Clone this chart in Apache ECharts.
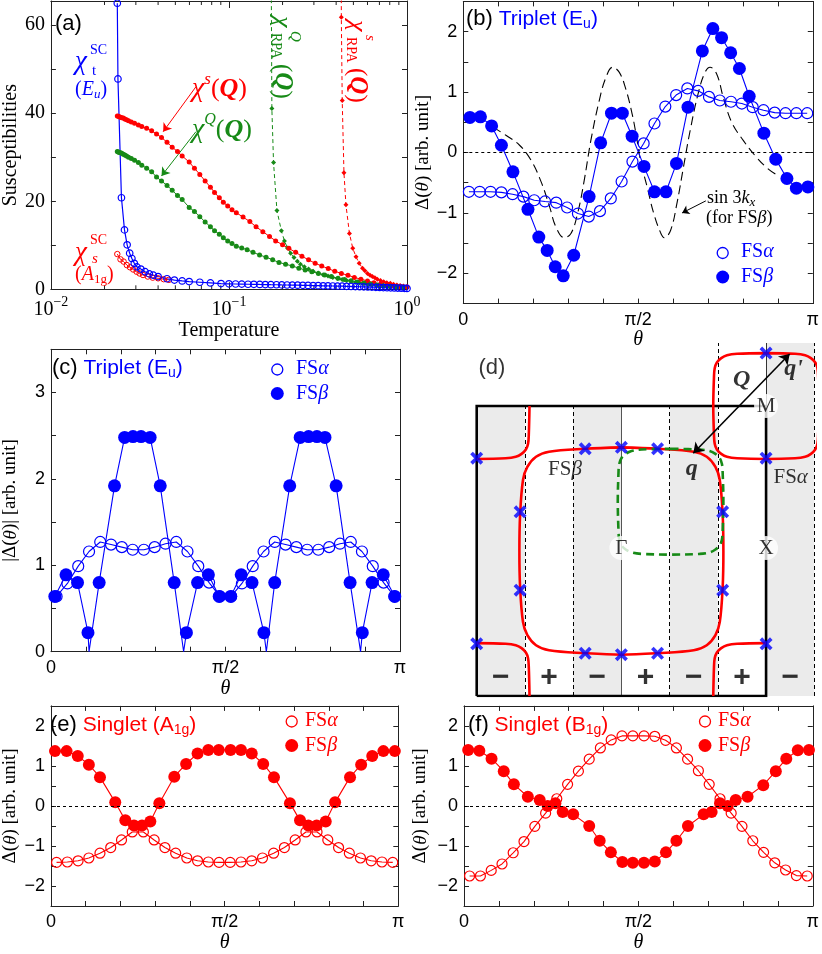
<!DOCTYPE html>
<html>
<head>
<meta charset="utf-8">
<script src="https://cdn.jsdelivr.net/npm/echarts@6/dist/echarts.min.js"></script>
<style>
  html, body { margin: 0; padding: 0; background: #fff; }
  #main { width: 822px; height: 954px; }
</style>
</head>
<body>
<div id="main"></div>
<script>
const SANS = '"Liberation Sans", Arial, sans-serif'
const SERIF = '"Liberation Serif", "Times New Roman", serif'
const BLUE = '#0000ff', RED = '#ff0000', GREEN = '#178a17', INK = '#000'

// ---------- (a) susceptibilities vs temperature : [T, value]
const aChiSpin = [[0.0236,39.4],[0.0239,39.3],[0.0242,39.2],[0.0246,39.1],[0.0250,39.0],[0.0255,38.9],[0.0260,38.7],[0.0266,38.5],[0.0273,38.3],[0.0283,38.0],[0.0295,37.7],[0.0310,37.3],[0.0324,37.0],[0.0345,36.6],[0.0368,36.0],[0.0392,35.3],[0.0418,34.5],[0.0449,33.4],[0.0480,32.3],[0.0514,31.3],[0.0546,30.3],[0.0598,28.9],[0.064,27.5],[0.0686,26.1],[0.0735,24.6],[0.0787,23.2],[0.083,22.0],[0.0883,20.8],[0.093,19.8],[0.0984,18.9],[0.104,18.1],[0.110,17.4],[0.120,16.4],[0.131,15.4],[0.142,14.2],[0.155,13.1],[0.169,12.0],[0.183,11.0],[0.200,10.1],[0.217,9.3],[0.237,8.4],[0.257,7.5],[0.280,6.7],[0.305,5.9],[0.332,5.3],[0.361,4.7],[0.393,4.1],[0.428,3.6],[0.466,3.2],[0.506,2.7],[0.551,2.3],[0.600,1.9],[0.652,1.5],[0.710,1.2],[0.773,1.0],[0.840,0.8],[0.914,0.65],[1.0,0.55]]
const aChiQuad = [[0.0236,31.3],[0.0239,31.2],[0.0242,31.1],[0.0246,31.0],[0.0250,30.9],[0.0255,30.7],[0.0260,30.5],[0.0266,30.3],[0.0273,30.0],[0.0283,29.7],[0.0295,29.3],[0.0310,28.8],[0.0324,28.2],[0.0345,27.5],[0.0368,26.7],[0.0392,25.5],[0.0418,24.6],[0.0449,23.6],[0.0480,22.5],[0.0514,21.3],[0.0546,20.4],[0.0598,18.6],[0.064,17.7],[0.0686,16.5],[0.0735,15.3],[0.0787,14.2],[0.083,13.3],[0.0883,12.5],[0.093,11.7],[0.0984,11.0],[0.104,10.4],[0.110,9.8],[0.118,9.4],[0.1265,9.0],[0.1365,8.4],[0.1486,7.8],[0.1616,7.3],[0.176,6.7],[0.191,6.1],[0.208,5.7],[0.227,5.3],[0.247,4.8],[0.268,4.4],[0.292,4.0],[0.318,3.6],[0.345,3.25],[0.376,2.9],[0.41,2.5],[0.445,2.2],[0.485,1.95],[0.527,1.65],[0.573,1.43],[0.624,1.2],[0.679,1.0],[0.738,0.82],[0.803,0.68],[0.874,0.55],[0.951,0.45]]
const aChiTriplet = [[0.0236,65.0],[0.0238,47.8],[0.0249,20.8],[0.0259,13.5],[0.0268,10.1],[0.0277,8.2],[0.0285,7.0],[0.0294,5.9],[0.0304,5.1],[0.0320,4.6],[0.0338,4.0],[0.0357,3.5],[0.0376,3.2],[0.0400,2.9],[0.0449,2.4],[0.0494,2.1],[0.0546,1.9],[0.0598,1.75],[0.0686,1.6],[0.0787,1.45],[0.0903,1.3],[0.100,1.25],[0.109,1.20],[0.118,1.18],[0.128,1.15],[0.138,1.13],[0.149,1.10],[0.160,1.08],[0.172,1.05],[0.185,1.03],[0.198,1.00],[0.212,0.98],[0.227,0.95],[0.243,0.93],[0.260,0.90],[0.278,0.88],[0.297,0.85],[0.317,0.83],[0.338,0.80],[0.360,0.78],[0.383,0.75],[0.407,0.72],[0.432,0.70],[0.458,0.67],[0.485,0.64],[0.513,0.61],[0.542,0.58],[0.572,0.55],[0.603,0.52],[0.635,0.49],[0.668,0.46],[0.702,0.43],[0.737,0.40],[0.773,0.37],[0.810,0.34],[0.848,0.31],[0.887,0.28],[0.927,0.25],[0.968,0.22],[1.0,0.2]]
const aChiSinglet = [[0.0236,8.0],[0.0246,6.8],[0.0256,6.3],[0.0267,5.5],[0.0278,5.0],[0.029,4.5],[0.0303,4.0],[0.0315,3.6],[0.0329,3.25],[0.035,2.9],[0.0373,2.65],[0.04,2.5],[0.043,2.3],[0.046,2.15]]
const aRpaQuad = [[0.1705,120],[0.1742,41.1],[0.178,28.8],[0.186,17.9],[0.197,13.3],[0.205,11.0],[0.213,9.4],[0.222,8.2],[0.232,7.2],[0.242,6.4],[0.252,5.7],[0.265,5.1],[0.28,4.6],[0.297,4.1],[0.317,3.7],[0.338,3.3],[0.36,3.0],[0.383,2.7],[0.407,2.45],[0.432,2.2],[0.458,2.0],[0.485,1.8],[0.513,1.6],[0.542,1.45],[0.572,1.3],[0.603,1.2],[0.635,1.1],[0.668,1.0],[0.702,0.9],[0.737,0.82],[0.773,0.75],[0.81,0.68],[0.848,0.62],[0.887,0.56],[0.927,0.51],[0.968,0.47],[1.0,0.44]]
const aRpaSpin = [[0.426,120],[0.4277,61.8],[0.4327,42.9],[0.4425,26.5],[0.454,19.2],[0.475,12.7],[0.496,9.3],[0.517,7.4],[0.539,5.9],[0.5625,4.8],[0.58,4.2],[0.6,3.6],[0.62,3.2],[0.639,2.9],[0.66,2.6],[0.681,2.3],[0.71,2.0],[0.74,1.7],[0.77,1.5],[0.806,1.35],[0.84,1.15],[0.877,1.0],[0.915,0.85],[0.954,0.75],[1.0,0.65]]
const aMinorTicks = [0.02,0.03,0.04,0.05,0.06,0.07,0.08,0.09,0.2,0.3,0.4,0.5,0.6,0.7,0.8,0.9]

// ---------- (b),(c),(e),(f) gap functions, theta in units of pi
const thetaGrid = [0.016,0.047,0.078,0.109,0.141,0.172,0.203,0.234,0.266,0.297,0.328,0.359,0.391,0.422,0.453,0.484,0.516,0.547,0.578,0.609,0.641,0.672,0.703,0.734,0.766,0.797,0.828,0.859,0.891,0.922,0.953,0.984]

const bAlpha = [-0.65,-0.65,-0.65,-0.66,-0.69,-0.73,-0.79,-0.81,-0.83,-0.91,-1.01,-1.06,-0.97,-0.76,-0.48,-0.15,0.15,0.48,0.76,0.95,1.06,1.02,0.92,0.86,0.84,0.81,0.75,0.70,0.66,0.65,0.65,0.65]
const bBeta = [[0.019,0.58],[0.049,0.59],[0.081,0.44],[0.109,0.12],[0.142,-0.32],[0.185,-0.94],[0.216,-1.40],[0.240,-1.62],[0.263,-1.89],[0.286,-2.04],[0.316,-1.70],[0.360,-0.73],[0.393,0.16],[0.424,0.65],[0.455,0.65],[0.483,0.27],[0.517,-0.23],[0.547,-0.65],[0.580,-0.65],[0.610,-0.18],[0.643,0.75],[0.684,1.68],[0.714,2.05],[0.739,1.90],[0.765,1.65],[0.790,1.39],[0.818,0.93],[0.860,0.32],[0.894,-0.11],[0.926,-0.43],[0.953,-0.59],[0.986,-0.57]]
const bSin3kx = [[0.085,0.42],[0.123,0.28],[0.161,0.12],[0.194,-0.13],[0.223,-0.49],[0.247,-0.90],[0.265,-1.23],[0.289,-1.41],[0.308,-1.34],[0.327,-1.01],[0.346,-0.46],[0.365,0.20],[0.389,0.86],[0.408,1.24],[0.427,1.41],[0.446,1.33],[0.465,1.05],[0.483,0.64],[0.495,0.28],[0.507,-0.13],[0.526,-0.57],[0.545,-1.01],[0.564,-1.32],[0.575,-1.41],[0.593,-1.29],[0.611,-0.85],[0.630,-0.24],[0.649,0.36],[0.673,1.0],[0.692,1.33],[0.706,1.41],[0.725,1.30],[0.744,0.91],[0.768,0.50],[0.801,0.2],[0.839,-0.08],[0.872,-0.27],[0.900,-0.38]]

const cAlpha = [0.64,0.79,0.99,1.16,1.27,1.24,1.21,1.18,1.18,1.21,1.25,1.27,1.16,0.99,0.80,0.64,0.64,0.79,0.99,1.16,1.27,1.24,1.21,1.18,1.18,1.21,1.25,1.27,1.16,0.99,0.80,0.64]
const cBeta = [[0.011,0.64],[0.043,0.89],[0.076,0.80],[0.106,0.22],[0.138,0.80],[0.182,1.92],[0.211,2.48],[0.235,2.49],[0.258,2.49],[0.284,2.48],[0.313,1.92],[0.353,0.80],[0.388,0.22],[0.420,0.80],[0.451,0.89],[0.482,0.64],[0.515,0.64],[0.545,0.89],[0.576,0.80],[0.610,0.22],[0.641,0.80],[0.684,1.92],[0.714,2.48],[0.738,2.49],[0.762,2.49],[0.785,2.48],[0.817,1.92],[0.857,0.80],[0.892,0.22],[0.920,0.80],[0.952,0.89],[0.985,0.64]]
const cBetaNodes = [0.109, 0.380, 0.617, 0.887]

const eAlpha = [-1.41,-1.40,-1.37,-1.30,-1.18,-1.04,-0.85,-0.65,-0.65,-0.85,-1.04,-1.18,-1.30,-1.37,-1.40,-1.41,-1.41,-1.40,-1.37,-1.30,-1.18,-1.04,-0.85,-0.65,-0.65,-0.85,-1.04,-1.18,-1.30,-1.37,-1.40,-1.41]
const eBeta = [[0.0115,1.37],[0.045,1.37],[0.077,1.25],[0.109,1.03],[0.141,0.72],[0.185,0.09],[0.214,-0.36],[0.239,-0.49],[0.262,-0.49],[0.286,-0.39],[0.312,0.07],[0.355,0.73],[0.389,1.05],[0.422,1.31],[0.453,1.40],[0.483,1.40],[0.517,1.40],[0.547,1.40],[0.578,1.31],[0.611,1.05],[0.642,0.72],[0.688,0.07],[0.717,-0.36],[0.741,-0.49],[0.765,-0.49],[0.791,-0.39],[0.818,0.09],[0.861,0.72],[0.893,1.03],[0.925,1.25],[0.957,1.37],[0.99,1.37]]

const fAlpha = [-1.75,-1.75,-1.61,-1.45,-1.17,-0.89,-0.51,-0.18,0.18,0.54,0.87,1.17,1.45,1.65,1.75,1.75,1.75,1.74,1.64,1.45,1.17,0.88,0.54,0.18,-0.18,-0.51,-0.87,-1.16,-1.42,-1.60,-1.74,-1.75]
const fBeta = [[0.012,1.40],[0.044,1.38],[0.079,1.18],[0.114,0.87],[0.143,0.54],[0.183,0.23],[0.217,0.15],[0.240,0.0],[0.262,0.07],[0.283,-0.15],[0.313,-0.21],[0.359,-0.50],[0.389,-0.87],[0.421,-1.16],[0.454,-1.40],[0.484,-1.42],[0.516,-1.42],[0.547,-1.39],[0.579,-1.16],[0.609,-0.87],[0.642,-0.50],[0.687,-0.21],[0.710,-0.15],[0.734,0.07],[0.756,0.0],[0.779,0.15],[0.813,0.23],[0.858,0.52],[0.894,0.87],[0.924,1.18],[0.957,1.39],[0.989,1.40]]

// ---------- (d) Fermi surfaces, k in units of pi
const dBetaQuarter = [[0,0.715],[0.25,0.705],[0.5,0.685],[0.59,0.65],[0.65,0.58],[0.68,0.49],[0.70,0.25],[0.705,0]]
const dAlphaQuarter = [[0,0.365],[0.2,0.36],[0.27,0.35],[0.31,0.33],[0.34,0.30],[0.355,0.26],[0.36,0.2],[0.365,0]]
const dGreenCenter = [0.34, 0.34]
const dNodes = [[-0.25,0.705],[0,0.715],[0.25,0.705],[-0.25,-0.705],[0,-0.715],[0.25,-0.705],[-0.70,0.27],[-0.70,-0.27],[0.70,0.27],[0.70,-0.27],[-1,0.64],[-1,-0.64],[1,0.64],[1,-0.64],[1,1.365]]
const dStrips = [[-1,-2/3,1],[-1/3,0,1],[1/3,2/3,1],[1,4/3,1.4345]]
const dDashX = [[-2/3,1],[-1/3,1],[1/3,1],[2/3,1.4345],[4/3,1.4345]]
const dSigns = ['−','+','−','+','−','+','−']
const dSignX = [-5/6,-1/2,-1/6,1/6,1/2,5/6,7/6]
const dQArrow = [[1.163,1.359],[0.497,0.674]]

// ---------- helpers
function loop(q, cx, cy) {
  const out = []
  q.forEach(p => out.push([cx + p[0], cy + p[1]]))
  q.slice().reverse().slice(1).forEach(p => out.push([cx + p[0], cy - p[1]]))
  q.slice(1).forEach(p => out.push([cx - p[0], cy - p[1]]))
  q.slice().reverse().slice(1).forEach(p => out.push([cx - p[0], cy + p[1]]))
  return out
}
const onGrid = (xs, ys) => xs.map((t, i) => [t, ys[i]])
const minus = s => String(s).replace('-', '−')

function thetaLabel(v) {
  if (Math.abs(v) < 1e-6) return '0'
  if (Math.abs(v - 0.5) < 1e-6) return 'π/2'
  if (Math.abs(v - 1) < 1e-6) return 'π'
  return ''
}

const frame = {color: '#222', width: 1}
function thetaAxes(grid, gap) {
  const base = {type: 'value', gridIndex: grid, min: 0, max: 1, interval: 0.1,
    axisLine: {show: true, onZero: false, lineStyle: frame},
    axisTick: {show: true, inside: true, length: 5, lineStyle: frame},
    splitLine: {show: false}}
  return [
    Object.assign({}, base, {position: 'bottom',
      axisLabel: {show: true, margin: 7, fontFamily: SANS, fontSize: 18, color: INK, formatter: thetaLabel},
      name: 'θ', nameLocation: 'middle', nameGap: gap,
      nameTextStyle: {fontFamily: SERIF, fontStyle: 'italic', fontSize: 20, color: INK}}),
    Object.assign({}, base, {position: 'top', axisLabel: {show: false}})
  ]
}
function valueAxes(grid, min, max, step, labelStep, name, gap, font, size) {
  const base = {type: 'value', gridIndex: grid, min: min, max: max, interval: step,
    axisLine: {show: true, onZero: false, lineStyle: frame},
    axisTick: {show: true, inside: true, length: 5, lineStyle: frame},
    splitLine: {show: false}}
  const nameRich = {
    n: {fontFamily: SERIF, fontSize: 19, color: INK},
    i: {fontFamily: SERIF, fontSize: 19, fontStyle: 'italic', color: INK}
  }
  return [
    Object.assign({}, base, {position: 'left',
      axisLabel: {show: true, margin: 6, fontFamily: font, fontSize: size, color: INK,
        formatter: v => {
          const k = v / labelStep
          return Math.abs(k - Math.round(k)) < 1e-6 && v <= max - step * 0.5 ? minus(Math.round(v)) : ''
        }},
      name: name, nameLocation: 'middle', nameGap: gap, nameRotate: 90,
      nameTextStyle: {rich: nameRich, fontFamily: SERIF, fontSize: 19, color: INK}}),
    Object.assign({}, base, {position: 'right', axisLabel: {show: false}})
  ]
}

const openSym = (color, size, bw) => ({symbol: 'circle', symbolSize: size,
  itemStyle: {color: 'rgba(255,255,255,0)', borderColor: color, borderWidth: bw}})
const fillSym = (color, size) => ({symbol: 'circle', symbolSize: size, itemStyle: {color: color}})
function gapSeries(xi, yi, data, color, sym, extra) {
  return Object.assign({type: 'line', xAxisIndex: xi, yAxisIndex: yi, data: data,
    lineStyle: {color: color, width: 1.1}, z: 3}, sym, extra || {})
}
const zeroLine = {silent: true, symbol: 'none', label: {show: false},
  lineStyle: {type: [3, 3], color: INK, width: 1}, data: [{yAxis: 0}]}

// text helpers (graphic)
function rt(x, y, text, rich, align) {
  return {type: 'text', x: x, y: y, silent: true, z: 50,
    style: {text: text, rich: rich, align: align || 'left', verticalAlign: 'middle'}}
}
function st(size, color, opt) {
  opt = opt || {}
  return {fontSize: size, fill: color, fontFamily: opt.fam || SERIF,
    fontStyle: opt.it ? 'italic' : 'normal', fontWeight: opt.bold ? 'bold' : 'normal',
    padding: opt.pad || [0, 0, 0, 0]}
}
function fsLegend(cx, cy, color, tx) {
  const rich = {n: st(20, color), g: st(20, color, {it: true})}
  return [
    {type: 'circle', silent: true, z: 50, shape: {cx: cx, cy: cy, r: 5.5}, style: {fill: 'none', stroke: color, lineWidth: 1.3}},
    rt(tx, cy - 1, '{n|FS}{g|α}', rich),
    {type: 'circle', silent: true, z: 50, shape: {cx: cx, cy: cy + 24, r: 6.5}, style: {fill: color}},
    rt(tx, cy + 24, '{n|FS}{g|β}', rich)
  ]
}
function title(x, y, tag, label, sub, color) {
  const rich = {
    t: st(22, INK, {fam: SANS}),
    a: st(21, color, {fam: SANS}),
    s: st(14, color, {fam: SANS, pad: [10, 0, 0, 0]})
  }
  return rt(x, y, '{t|' + tag + '}{a| ' + label + ' (' + sub[0] + '}{s|' + sub.slice(1) + '}{a|)}', rich)
}

// ---------- annotation text
const graphics = []
graphics.push(rt(55, 24, '{t|(a)}', {t: st(22, INK, {fam: SANS})}))
// chi_t^SC (E_u)
graphics.push(rt(75, 62, '{c|χ}', {c: st(27, BLUE, {it: true})}))
graphics.push(rt(90, 50, '{c|SC}', {c: st(14, BLUE)}))
graphics.push(rt(92, 71, '{c|t}', {c: st(15, BLUE)}))
graphics.push(rt(75, 90, '{p|(}{e|E}{s|u}{p|)}', {p: st(20, BLUE), e: st(20, BLUE, {it: true}), s: st(13, BLUE, {it: true, pad: [9, 0, 0, 0]})}))
// chi_s^SC (A_1g)
graphics.push(rt(75, 253, '{c|χ}', {c: st(27, RED, {it: true})}))
graphics.push(rt(90, 240, '{c|SC}', {c: st(14, RED)}))
graphics.push(rt(92, 259, '{c|s}', {c: st(15, RED, {it: true})}))
graphics.push(rt(75, 275, '{p|(}{e|A}{s|1g}{p|)}', {p: st(20, RED), e: st(20, RED, {it: true}), s: st(13, RED, {pad: [9, 0, 0, 0]})}))
// chi^s(Q), chi^Q(Q)
graphics.push(rt(192, 89, '{c|χ}{u|s}{p|(}{q|Q}{p|)}', {c: st(28, RED, {it: true}), u: st(17, RED, {it: true, pad: [0, 0, 18, 0]}), p: st(26, RED), q: st(26, RED, {it: true, bold: true})}))
graphics.push(rt(192, 130, '{c|χ}{u|Q}{p|(}{q|Q}{p|)}', {c: st(28, GREEN, {it: true}), u: st(16, GREEN, {it: true, pad: [0, 0, 20, 0]}), p: st(26, GREEN), q: st(26, GREEN, {it: true, bold: true})}))
// rotated RPA labels
function rpaLabel(x, y, color, sup) {
  return {type: 'group', x: x, y: y, rotation: -Math.PI / 2, silent: true, z: 50, children: [
    rt(0, 0, '{c|χ}', {c: st(26, color, {it: true})}),
    rt(15, -13, '{c|' + sup + '}', {c: st(15, color, {it: true})}),
    rt(17, 6, '{c|RPA}', {c: st(14, color)}),
    rt(48, 0, '{p|(}{q|Q}{p|)}', {p: st(25, color), q: st(25, color, {it: true, bold: true})})
  ]}
}
graphics.push(rpaLabel(282, 16, GREEN, 'Q'))
graphics.push(rpaLabel(357, 20, RED, 's'))

// panel titles and legends
graphics.push(title(466, 19, '(b)', 'Triplet', 'Eu', BLUE))
graphics.push(title(52, 368, '(c)', 'Triplet', 'Eu', BLUE))
graphics.push(title(50, 725, '(e)', 'Singlet', 'A1g', RED))
graphics.push(title(468, 725, '(f)', 'Singlet', 'B1g', RED))
fsLegend(722.7, 253, BLUE, 741).forEach(g => graphics.push(g))
fsLegend(277.3, 369.5, BLUE, 296).forEach(g => graphics.push(g))
fsLegend(291.7, 721.5, RED, 305).forEach(g => graphics.push(g))
fsLegend(705, 721.5, RED, 718).forEach(g => graphics.push(g))
// sin 3kx note in (b)
graphics.push(rt(707, 198, '{n|sin 3}{i|k}{s|x}', {n: st(18, INK), i: st(18, INK, {it: true}), s: st(13, INK, {it: true, pad: [9, 0, 0, 0]})}))
graphics.push(rt(706, 218, '{n|(for FS}{i|β}{n|)}', {n: st(18, INK), i: st(18, INK, {it: true})}))

// ---------- axes
const xAxes = [
  {type: 'log', logBase: 10, gridIndex: 0, min: 0.01, max: 1, position: 'bottom',
    axisLine: {show: true, onZero: false, lineStyle: frame},
    axisTick: {show: true, inside: true, length: 7, lineStyle: frame},
    splitLine: {show: false},
    axisLabel: {show: true, margin: 6, color: INK,
      formatter: v => '{b|10}{s|' + minus(Math.round(Math.log10(v))) + '}',
      rich: {b: {fontFamily: SERIF, fontSize: 20, color: INK}, s: {fontFamily: SERIF, fontSize: 14, color: INK, padding: [0, 0, 14, 0]}}},
    name: 'Temperature', nameLocation: 'middle', nameGap: 31,
    nameTextStyle: {fontFamily: SERIF, fontSize: 20, color: INK}},
  {type: 'log', logBase: 10, gridIndex: 0, min: 0.01, max: 1, position: 'top',
    axisLine: {show: true, onZero: false, lineStyle: frame},
    axisTick: {show: true, inside: true, length: 7, lineStyle: frame},
    splitLine: {show: false}, axisLabel: {show: false}}
].concat(thetaAxes(1, 24), thetaAxes(2, 27),
  [{type: 'value', gridIndex: 3, min: -1, max: 4 / 3, show: false}],
  thetaAxes(4, 27), thetaAxes(5, 27))

const yAxes = [].concat(
  valueAxes(0, 0, 65.5, 10, 20, 'Susceptibilities', 29, SERIF, 20),
  valueAxes(1, -2.5, 2.5, 0.5, 1, '{n|Δ(}{i|θ}{n|) [arb. unit]}', 27, SANS, 18),
  valueAxes(2, 0, 3.5, 0.5, 1, '{n||Δ(}{i|θ}{n|)| [arb. unit]}', 31, SANS, 18),
  [{type: 'value', gridIndex: 3, min: -1, max: 1.4345, show: false}],
  valueAxes(4, -2.5, 2.5, 0.5, 1, '{n|Δ(}{i|θ}{n|) [arb. unit]}', 31, SANS, 18),
  valueAxes(5, -2.5, 2.5, 0.5, 1, '{n|Δ(}{i|θ}{n|) [arb. unit]}', 34, SANS, 18)
)
yAxes[0].nameTextStyle = {fontFamily: SERIF, fontSize: 20, color: INK}
// axis indices: x: a0,a1 | b2,b3 | c4,c5 | d6 | e7,e8 | f9,f10 ; y likewise

// ---------- series
const series = []
// (a)
series.push({type: 'line', xAxisIndex: 0, yAxisIndex: 0, data: aRpaSpin, symbol: 'diamond', symbolSize: 5,
  lineStyle: {color: RED, width: 1, type: [4, 3]}, itemStyle: {color: RED}})
series.push({type: 'line', xAxisIndex: 0, yAxisIndex: 0, data: aRpaQuad, symbol: 'diamond', symbolSize: 5,
  lineStyle: {color: GREEN, width: 1, type: [4, 3]}, itemStyle: {color: GREEN}})
series.push({type: 'line', xAxisIndex: 0, yAxisIndex: 0, data: aChiSpin, symbol: 'circle', symbolSize: 5,
  lineStyle: {color: RED, width: 1}, itemStyle: {color: RED}})
series.push({type: 'line', xAxisIndex: 0, yAxisIndex: 0, data: aChiQuad, symbol: 'circle', symbolSize: 5,
  lineStyle: {color: GREEN, width: 1}, itemStyle: {color: GREEN}})
series.push(Object.assign({type: 'line', xAxisIndex: 0, yAxisIndex: 0, data: aChiSinglet,
  lineStyle: {color: RED, width: 1}}, openSym(RED, 5.5, 1)))
series.push(Object.assign({type: 'line', xAxisIndex: 0, yAxisIndex: 0, data: aChiTriplet,
  lineStyle: {color: BLUE, width: 1.2}}, openSym(BLUE, 6.5, 1.2)))
series.push({type: 'lines', coordinateSystem: 'cartesian2d', xAxisIndex: 0, yAxisIndex: 0,
  symbol: ['none', 'arrow'], symbolSize: 8, silent: true,
  data: [{coords: [[0.0652, 46.0], [0.0427, 35.8]], lineStyle: {color: RED, width: 1, opacity: 1}},
         {coords: [[0.0652, 35.8], [0.0418, 25.75]], lineStyle: {color: GREEN, width: 1, opacity: 1}}],
  lineStyle: {opacity: 1}})
series.push({type: 'custom', xAxisIndex: 0, yAxisIndex: 0, silent: true, data: aMinorTicks.map(t => [t, 1]),
  renderItem: (params, api) => {
    const x = api.coord([api.value(0), 1])[0]
    const cs = params.coordSys
    const yb = cs.y + cs.height
    return {type: 'group', children: [
      {type: 'line', shape: {x1: x, y1: yb, x2: x, y2: yb - 4}, style: {stroke: '#222', lineWidth: 1}},
      {type: 'line', shape: {x1: x, y1: cs.y, x2: x, y2: cs.y + 4}, style: {stroke: '#222', lineWidth: 1}}
    ]}
  }})

// (b)
series.push(gapSeries(2, 2, onGrid(thetaGrid, bAlpha), BLUE, openSym(BLUE, 11, 1.2), {markLine: zeroLine}))
series.push(gapSeries(2, 2, bBeta, BLUE, fillSym(BLUE, 13)))
series.push({type: 'line', xAxisIndex: 2, yAxisIndex: 2, data: bSin3kx, symbol: 'none', smooth: 0.4,
  lineStyle: {color: INK, width: 1.1, type: [9, 5]}, z: 2})
series.push({type: 'lines', coordinateSystem: 'cartesian2d', xAxisIndex: 2, yAxisIndex: 2,
  symbol: ['none', 'arrow'], symbolSize: 7, silent: true,
  data: [{coords: [[0.694, -0.80], [0.626, -1.0]]}], lineStyle: {color: INK, width: 1, opacity: 1}})

// (c)
const cBetaData = cBeta.map(p => ({value: p}))
  .concat(cBetaNodes.map(t => ({value: [t, 0], symbol: 'none'})))
  .sort((a, b) => a.value[0] - b.value[0])
series.push(gapSeries(4, 4, onGrid(thetaGrid, cAlpha), BLUE, openSym(BLUE, 11, 1.2)))
series.push(gapSeries(4, 4, cBetaData, BLUE, fillSym(BLUE, 13)))

// (e)
series.push(gapSeries(7, 7, onGrid(thetaGrid, eAlpha), RED, openSym(RED, 10, 1.2), {markLine: zeroLine}))
series.push(gapSeries(7, 7, eBeta, RED, fillSym(RED, 12)))
// (f)
series.push(gapSeries(9, 9, onGrid(thetaGrid, fAlpha), RED, openSym(RED, 10, 1.2), {markLine: zeroLine}))
series.push(gapSeries(9, 9, fBeta, RED, fillSym(RED, 12)))

// (d) Fermi surface sketch
const dAx = {xAxisIndex: 6, yAxisIndex: 6, silent: true}
series.push(Object.assign({type: 'lines', coordinateSystem: 'cartesian2d', polyline: true,
  data: [{coords: [[-1, -1], [1, -1], [1, 1], [-1, 1], [-1, -1]]}],
  lineStyle: {color: INK, width: 2.6, opacity: 1}, z: 4,
  markArea: {silent: true, itemStyle: {color: '#ebebeb'},
    data: dStrips.map(s => [{coord: [s[0], -1]}, {coord: [s[1], s[2]]}])}}, dAx))
series.push(Object.assign({type: 'lines', coordinateSystem: 'cartesian2d', z: 2,
  data: dDashX.map(d => ({coords: [[d[0], -1], [d[0], d[1]]]})),
  lineStyle: {color: INK, width: 1, type: [4, 3], opacity: 1}}, dAx))
series.push(Object.assign({type: 'lines', coordinateSystem: 'cartesian2d', z: 2,
  data: [{coords: [[0, -1], [0, 1]], lineStyle: {color: '#555', width: 1, opacity: 1}},
         {coords: [[1, 1], [1, 1.4345]], lineStyle: {color: '#333', width: 1, opacity: 1}}],
  lineStyle: {opacity: 1}}, dAx))
const redCurve = {type: 'line', symbol: 'none', smooth: 0.35, lineStyle: {color: RED, width: 2.6}, z: 5}
series.push(Object.assign({}, redCurve, dAx, {data: loop(dBetaQuarter, 0, 0)}))
series.push(Object.assign({}, redCurve, dAx, {data: loop(dAlphaQuarter, 1, 1), clip: false}))
series.push(Object.assign({}, redCurve, dAx, {data: dAlphaQuarter.map(p => [-1 + p[0], 1 - p[1]])}))
series.push(Object.assign({}, redCurve, dAx, {data: dAlphaQuarter.map(p => [-1 + p[0], -1 + p[1]])}))
series.push(Object.assign({}, redCurve, dAx, {data: dAlphaQuarter.map(p => [1 - p[0], -1 + p[1]])}))
series.push(Object.assign({type: 'line', symbol: 'none', smooth: 0.35, z: 5,
  lineStyle: {color: GREEN, width: 2.6, type: [8, 5]},
  data: loop(dAlphaQuarter, dGreenCenter[0], dGreenCenter[1])}, dAx))
series.push(Object.assign({type: 'lines', coordinateSystem: 'cartesian2d', z: 6,
  symbol: ['arrow', 'arrow'], symbolSize: 10,
  data: [{coords: dQArrow}], lineStyle: {color: INK, width: 1.6, opacity: 1}}, dAx))
series.push(Object.assign({type: 'scatter', z: 7, data: dNodes,
  symbol: 'path://M2,0L5,3L8,0L10,2L7,5L10,8L8,10L5,7L2,10L0,8L3,5L0,2Z', symbolSize: 13,
  itemStyle: {color: BLUE}}, dAx))
series.push(Object.assign({type: 'scatter', z: 8, symbol: 'circle', symbolSize: 24,
  itemStyle: {color: '#fff'},
  label: {show: true, position: 'inside', fontFamily: SERIF, fontSize: 21, color: INK, formatter: p => p.data.t},
  data: [{value: [0, 0.02], t: 'Γ'}, {value: [1, 1], t: 'M'}, {value: [1, 0.02], t: 'X'}]}, dAx))
const dRich = {
  n: {fontFamily: SERIF, fontSize: 21, color: INK},
  g: {fontFamily: SERIF, fontSize: 21, fontStyle: 'italic', color: INK},
  q: {fontFamily: SERIF, fontSize: 24, fontStyle: 'italic', fontWeight: 'bold', color: INK},
  d: {fontFamily: SANS, fontSize: 22, color: INK},
  m: {fontFamily: SANS, fontSize: 30, fontWeight: 'bold', color: INK}
}
series.push(Object.assign({type: 'scatter', z: 9, symbolSize: 0,
  label: {show: true, position: 'inside', formatter: p => p.data.t, rich: dRich},
  data: [
    {value: [-0.39, 0.56], t: '{n|FS}{g|β}'},
    {value: [1.17, 0.51], t: '{n|FS}{g|α}'},
    {value: [0.487, 0.57], t: '{q|q}'},
    {value: [0.832, 1.18], t: '{q|Q}'},
    {value: [1.19, 1.26], t: "{q|q'}"},
    {value: [-0.895, 1.26], t: '{d|(d)}'}
  ].concat(dSigns.map((s, i) => ({value: [dSignX[i], -0.875], t: '{m|' + s + '}'})))}, dAx))

// ---------- chart
const option = {
  animation: false,
  backgroundColor: '#fff',
  grid: [
    {left: 44, top: 1, width: 363, height: 288.3},
    {left: 463.3, top: 1.4, width: 351.7, height: 302.2},
    {left: 49.3, top: 349.3, width: 350.7, height: 302.4},
    {left: 476.7, top: 343, width: 337.6, height: 353},
    {left: 49.3, top: 705.9, width: 349, height: 201.6},
    {left: 464, top: 705.9, width: 351, height: 201.6}
  ],
  xAxis: xAxes,
  yAxis: yAxes,
  series: series,
  graphic: {elements: graphics}
}

const chart = echarts.init(document.getElementById('main'), null, {renderer: 'canvas'})
chart.setOption(option)
</script>
</body>
</html>
